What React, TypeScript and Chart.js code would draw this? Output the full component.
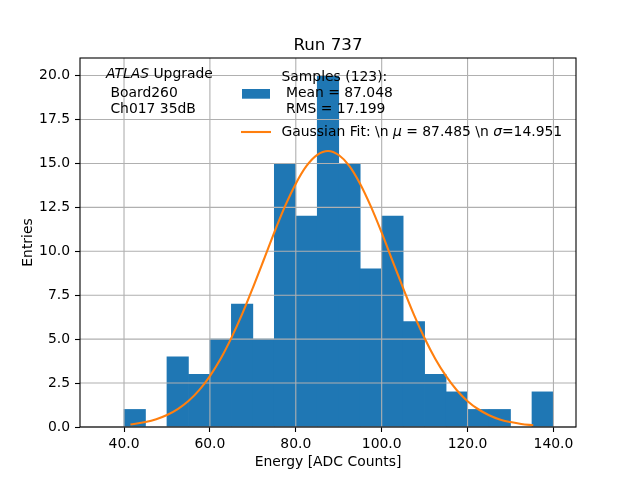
import React, { useEffect, useRef } from 'react';
import { Chart, registerables, Plugin } from 'chart.js';

Chart.register(...registerables);

// histogram: 5-wide bins from 35 to 140
const binCenters = [
  37.5, 42.5, 47.5, 52.5, 57.5, 62.5, 67.5, 72.5, 77.5, 82.5, 87.5,
  92.5, 97.5, 102.5, 107.5, 112.5, 117.5, 122.5, 127.5, 132.5, 137.5,
];
const binCounts = [0, 1, 0, 4, 3, 5, 7, 5, 15, 12, 20, 15, 9, 12, 6, 3, 2, 1, 1, 0, 2];

// fitted curve
const fitX = [
  41.5, 45, 47.5, 50, 52.5, 55, 57.5, 60, 62.5, 65, 67.5, 70, 72.5, 75, 77.5, 80,
  82.5, 85, 87.5, 90, 92.5, 95, 97.5, 100, 102.5, 105, 107.5, 110, 112.5, 115,
  117.5, 120, 122.5, 125, 127.5, 130, 132.5, 135.3,
];
const fitY = [
  0.14, 0.28, 0.44, 0.68, 1.02, 1.48, 2.1, 2.9, 3.88, 5.07, 6.42, 7.92, 9.49, 11.08, 12.57, 13.85,
  14.86, 15.49, 15.71, 15.48, 14.85, 13.83, 12.54, 11.06, 9.47, 7.9, 6.4, 5.05, 3.87, 2.89,
  2.09, 1.47, 1.01, 0.67, 0.43, 0.28, 0.17, 0.1,
];

const xTicks = [40, 60, 80, 100, 120, 140];
const yTicks = [0, 2.5, 5, 7.5, 10, 12.5, 15, 17.5, 20];

const titleText = 'Run 737';
const xLabel = 'Energy [ADC Counts]';
const yLabel = 'Entries';
const infoLines: [string, boolean][][] = [
  [['ATLAS', true], [' Upgrade', false]],
  [[' Board260', false]],
  [[' Ch017 35dB', false]],
];
const sampleLines = ['Samples (123):', ' Mean = 87.048', ' RMS = 17.199'];
const fitLabel: [string, boolean][] = [
  ['Gaussian Fit: \\n ', false],
  ['\u03bc', true],
  [' = 87.485 \\n ', false],
  ['\u03c3', true],
  ['=14.951', false],
];

const FAMILY = '"DejaVu Sans"';
const BLUE = '#1f77b4';
const ORANGE = '#ff7f0e';

function drawParts(ctx: CanvasRenderingContext2D, parts: [string, boolean][], x: number, y: number, size: number) {
  let cx = x;
  for (const [t, it] of parts) {
    ctx.font = `${it ? 'italic ' : ''}${size}px ${FAMILY}`;
    ctx.fillText(t, cx, y);
    cx += ctx.measureText(t).width;
  }
}

// grid goes above the bars but under the fit line, like matplotlib
const gridPlugin: Plugin = {
  id: 'mplGrid',
  beforeDatasetDraw(chart, args) {
    if ((chart.data.datasets[args.index] as any).type !== 'line') return;
    const { ctx, chartArea: a, scales } = chart;
    ctx.save();
    ctx.strokeStyle = '#b0b0b0';
    ctx.lineWidth = 1.1;
    ctx.beginPath();
    xTicks.forEach((v) => {
      const px = scales.x.getPixelForValue(v);
      ctx.moveTo(px, a.top);
      ctx.lineTo(px, a.bottom);
    });
    yTicks.forEach((v) => {
      const py = scales.y.getPixelForValue(v);
      ctx.moveTo(a.left, py);
      ctx.lineTo(a.right, py);
    });
    ctx.stroke();
    ctx.restore();
  },
};

const decorPlugin: Plugin = {
  id: 'mplDecor',
  afterDraw(chart) {
    const { ctx, chartArea: a } = chart;
    ctx.save();
    ctx.strokeStyle = '#000';
    ctx.lineWidth = 1.1;
    ctx.strokeRect(a.left, a.top, a.right - a.left, a.bottom - a.top);

    ctx.fillStyle = '#000';
    ctx.textBaseline = 'alphabetic';
    ctx.textAlign = 'center';
    ctx.font = `16.7px ${FAMILY}`;
    ctx.fillText(titleText, (a.left + a.right) / 2, 50);
    ctx.font = `13.9px ${FAMILY}`;
    ctx.fillText(xLabel, (a.left + a.right) / 2, 466);
    ctx.save();
    ctx.translate(32.3, (a.top + a.bottom) / 2);
    ctx.rotate(-Math.PI / 2);
    ctx.fillText(yLabel, 0, 0);
    ctx.restore();

    ctx.textAlign = 'left';
    const infoBase = [78.3, 96.5, 112.7];
    infoLines.forEach((parts, i) => drawParts(ctx, parts, 106, infoBase[i], 13.9));

    // legend
    ctx.fillStyle = BLUE;
    ctx.fillRect(242, 89, 28, 9.7);
    ctx.strokeStyle = ORANGE;
    ctx.lineWidth = 2.1;
    ctx.beginPath();
    ctx.moveTo(241, 132);
    ctx.lineTo(271, 132);
    ctx.stroke();
    ctx.fillStyle = '#000';
    const sampleBase = [80.7, 97, 113.3];
    sampleLines.forEach((t, i) => drawParts(ctx, [[t, false]], 281.5, sampleBase[i], 13.9));
    drawParts(ctx, fitLabel, 281.5, 135.7, 13.9);
    ctx.restore();
  },
};

const App: React.FC = () => {
  const canvasRef = useRef<HTMLCanvasElement | null>(null);

  useEffect(() => {
    document.body.style.margin = '0';
    if (!canvasRef.current) return;
    const tickFont = { family: FAMILY, size: 13.9 };
    const chart = new Chart(canvasRef.current, {
      type: 'bar',
      data: {
        datasets: [
          {
            type: 'bar',
            data: binCenters.map((x, i) => ({ x, y: binCounts[i] || null })) as any,
            backgroundColor: BLUE,
            borderWidth: 0,
            barPercentage: 1,
            categoryPercentage: 1,
            order: 2,
          },
          {
            type: 'line',
            data: fitX.map((x, i) => ({ x, y: fitY[i] })),
            borderColor: ORANGE,
            borderWidth: 2.1,
            pointRadius: 0,
            fill: false,
            cubicInterpolationMode: 'monotone',
            order: 1,
          },
        ],
      },
      options: {
        animation: false,
        responsive: false,
        devicePixelRatio: 1,
        layout: { padding: { top: 58, right: 64, left: 0, bottom: 0 } },
        plugins: {
          legend: { display: false },
          title: { display: false },
          tooltip: { enabled: false },
        },
        scales: {
          x: {
            type: 'linear',
            min: 29.75,
            max: 145.25,
            offset: false,
            afterFit: (s: any) => { s.height = 53; },
            afterBuildTicks: (s: any) => { s.ticks = xTicks.map((value) => ({ value })); },
            grid: { drawOnChartArea: false, drawTicks: true, tickLength: 5, tickColor: '#000', tickWidth: 1.1, offset: false },
            border: { display: false },
            ticks: {
              color: '#000',
              font: tickFont,
              padding: 4,
              maxRotation: 0,
              autoSkip: false,
              callback: (v) => Number(v).toFixed(1),
            },
          },
          y: {
            min: 0,
            max: 21,
            afterFit: (s: any) => { s.width = 80; },
            afterBuildTicks: (s: any) => { s.ticks = yTicks.map((value) => ({ value })); },
            grid: { drawOnChartArea: false, drawTicks: true, tickLength: 5, tickColor: '#000', tickWidth: 1.1 },
            border: { display: false },
            ticks: {
              color: '#000',
              font: tickFont,
              padding: 5,
              autoSkip: false,
              callback: (v) => Number(v).toFixed(1),
            },
          },
        },
      },
      plugins: [gridPlugin, decorPlugin],
    });
    return () => chart.destroy();
  }, []);

  return (
    <div style={{ width: 640, height: 480 }}>
      <canvas ref={canvasRef} width={640} height={480} />
    </div>
  );
};

export default App;
